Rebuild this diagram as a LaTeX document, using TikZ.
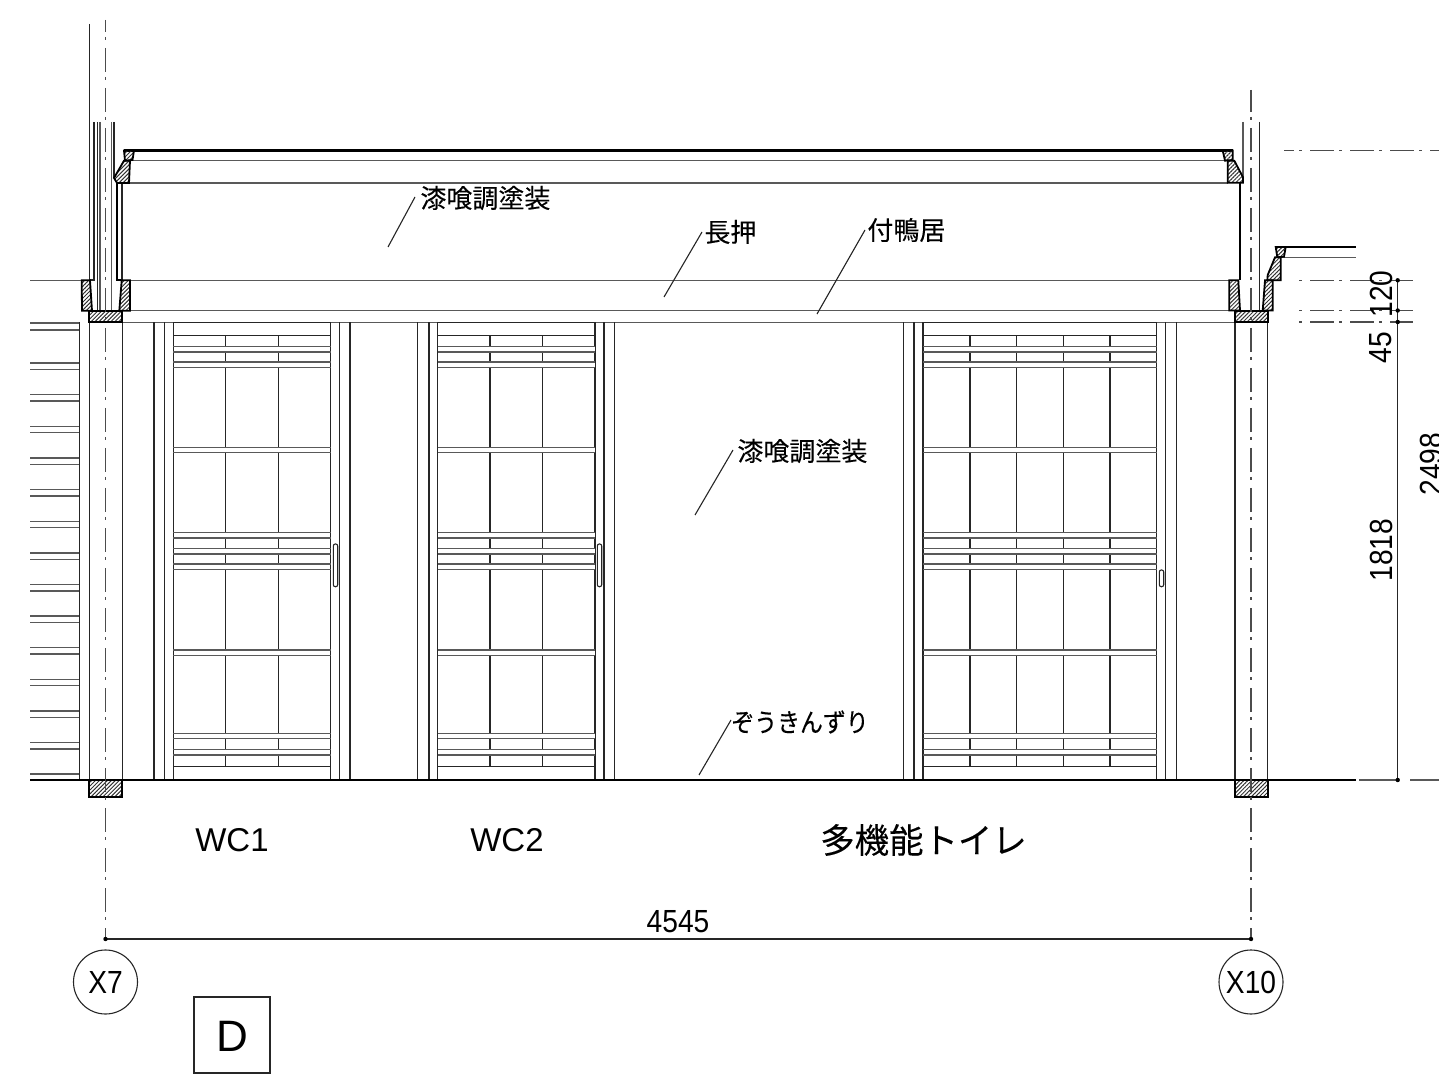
\documentclass[tikz,border=0pt]{standalone}
\usepackage{fontspec}
\usetikzlibrary{patterns.meta}
\setmainfont{Liberation Sans}
\newfontfamily\cjk[FakeBold=0.2]{Noto Sans CJK JP}
\newfontfamily\nar[FakeStretch=0.88]{Liberation Sans}
\tikzset{
  thinl/.style={line width=0.55pt,black!85},
  rail/.style={line width=0.7pt,black!65},
  heavy/.style={line width=1.05pt,black},
  cen/.style={line width=0.6pt,black!70,dash pattern=on 12pt off 2.5pt on 1.5pt off 4pt},
  hatchshape/.style={draw=black,line width=0.9pt,pattern={Lines[angle=45,distance=1.4pt,line width=0.5pt]},pattern color=black!80},
  lbl/.style={inner sep=0pt,font=\cjk\fontsize{13}{13}\selectfont},
  numl/.style={inner sep=0pt,font=\nar\fontsize{16}{16}\selectfont},
  latl/.style={inner sep=0pt,font=\fontsize{16.5}{16.5}\selectfont},
  dimdot/.style={circle,fill=black,inner sep=0pt,minimum size=2.2pt},
}
\begin{document}
\begin{tikzpicture}[x=0.5pt,y=-0.5pt]
\useasboundingbox (0,0) rectangle (1439,1074);
\fill[white] (0,0) rectangle (1439,1074);
% left wall siding
\foreach \k in {1,...,13}{
  \pgfmathsetmacro{\ya}{774-31.6*\k}
  \pgfmathsetmacro{\yb}{\ya+6.4}
  \draw[rail] (30,\ya) -- (79.3,\ya);
  \draw[rail] (30,\yb) -- (79.3,\yb);
}
\draw[rail] (30,774) -- (79.3,774);
\draw[rail,line width=1pt] (30,323) -- (79.3,323);
\draw[rail] (30,330) -- (79.3,330);
% long horizontals
\draw[rail] (130,280.3) -- (1229.3,280.3);
\draw[rail] (30,280.3) -- (81.7,280.3);
\draw[rail] (122.3,310.7) -- (1235,310.7);
\draw[rail] (122.3,322.3) -- (1235,322.3);
\draw[heavy] (124,150.5) -- (1233,150.5);
\draw[rail] (130,160.7) -- (1228,160.7);
\draw[rail] (129,183) -- (1228,183);
% columns
\foreach \x in {79.3,89.7,122.3,1235,1267.7}
  \draw[thinl] (\x,322.3) -- (\x,780);
% left wall above
\draw[thinl] (89.7,24) -- (89.7,280) -- (94,280) -- (94,122);
\draw[thinl] (97.7,122) -- (97.7,310);
\draw[rail] (100,122) -- (100,310);
\draw[rail] (111.7,122) -- (111.7,310);
\draw[thinl] (114,122) -- (114,178);
\draw[heavy] (116.7,183) -- (116.7,280) -- (122,280);
\draw[thinl] (122,183) -- (122,280);
% right wall above
\draw[rail] (1243,122) -- (1243,178);
\draw[thinl] (1259.3,122) -- (1259.3,310);
\draw[heavy] (1240.3,183) -- (1240.3,280);
% right outer roof
\draw[heavy] (1285,247) -- (1355.7,247);
\draw[rail] (1280,257.3) -- (1355.7,257.3);
% hatched parts, left
\draw[hatchshape] (124,150.5) -- (134,150.5) -- (132.5,160) -- (125,160.7) -- cycle;
\draw[hatchshape] (114,178) -- (124,160.7) -- (130,160.7) -- (129,183) -- (117,183) -- cycle;
\draw[hatchshape] (81.7,280.3) -- (90,280.3) -- (92,310.7) -- (82,310.7) -- cycle;
\draw[hatchshape] (121.7,280.3) -- (130,280.3) -- (130,310.7) -- (119.3,310.7) -- cycle;
\draw[hatchshape] (89.3,310.7) rectangle (122.3,322.3);
\draw[hatchshape] (89.3,780) rectangle (122.3,797);
% hatched parts, right
\draw[hatchshape] (1222.7,150.5) -- (1232.7,150.5) -- (1232.7,160) -- (1225,160.7) -- cycle;
\draw[hatchshape] (1227.7,160.7) -- (1234.3,160.7) -- (1243,177.3) -- (1243,182.7) -- (1227.7,182.7) -- cycle;
\draw[hatchshape] (1229.3,280.3) -- (1238.3,280.3) -- (1240,310.5) -- (1229.3,310.5) -- cycle;
\draw[hatchshape] (1265,280.3) -- (1272.7,280.3) -- (1272.7,310.5) -- (1262.7,310.5) -- cycle;
\draw[hatchshape] (1235,310.7) rectangle (1267.7,322.3);
\draw[hatchshape] (1235,780) rectangle (1267.7,797);
\draw[hatchshape] (1275.7,247) -- (1285.7,247) -- (1284,256.7) -- (1277.3,257.3) -- cycle;
\draw[hatchshape] (1267.3,280.3) -- (1267.7,275) -- (1275,257.3) -- (1280.7,257.3) -- (1280.7,280.3) -- cycle;
% doors: frame lines
\foreach \x in {154,164.3,173.3,330.7,339.5,350,417.7,429,437.7,595,604,614.3,903.3,914,923,1156.7,1165.7,1176.3}
  \draw[thinl] (\x,322.3) -- (\x,780);
% door panels
\foreach \xa/\xb/\mul in {173.3/330.7/{225.7,278.3},437.7/595/{490,542.7},923/1156.7/{970,1016.7,1063.3,1110}}{
  \foreach \m in \mul
    \draw[thinl] (\m,335.7) -- (\m,766.3);
  \draw[thinl] (\xa,322.3) -- (\xb,322.3);
  \draw[thinl] (\xa,335.7) -- (\xb,335.7);
  \draw[thinl] (\xa,766.3) -- (\xb,766.3);
  \foreach \ra in {346.7,362,447.3,532.7,548.7,564,650,733.3,749.7}{
    \fill[white] (\xa+0.5,\ra) rectangle (\xb-0.5,\ra+5.3);
    \draw[rail] (\xa,\ra) -- (\xb,\ra);
    \draw[rail] (\xa,\ra+5.3) -- (\xb,\ra+5.3);
  }
}
% handles
\draw[thinl,rounded corners=1pt,fill=white] (333.3,544) rectangle (337.7,586.7);
\draw[thinl,rounded corners=1pt,fill=white] (597.3,544) rectangle (601.7,586.7);
\draw[thinl,rounded corners=1pt,fill=white] (1159.3,570) rectangle (1163.7,586.7);
% floor
\draw[heavy] (30,780) -- (1356,780);
\draw[rail] (1359.3,780) -- (1398,780);
\draw[rail] (1410,780) -- (1439,780);
% centre lines
\draw[cen,dash phase=6pt] (105.5,20) -- (105.5,940);
\draw[cen,dash phase=1pt] (1251,90) -- (1251,940);
\draw[cen,dash phase=7pt] (1284,150.3) -- (1439,150.3);
\foreach \y in {280.3,310.5,322}
  \draw[cen,dash phase=12pt] (1294,\y) -- (1413,\y);
% dimension lines
\coordinate (d7) at (105.5,939);
\coordinate (d10) at (1251,939);
\draw[thinl] (d7) -- (d10);
\node[dimdot] at (d7) {};
\node[dimdot] at (d10) {};
\coordinate (v1) at (1397.7,280.3);
\coordinate (v2) at (1397.7,310.5);
\coordinate (v3) at (1397.7,322);
\coordinate (v4) at (1397.7,780);
\draw[thinl] (v1) -- (v4);
\foreach \c in {v1,v2,v3,v4} \node[dimdot] at (\c) {};
% leaders
\draw[thinl] (415,197) -- (388,247);
\draw[thinl] (702,232) -- (664,297);
\draw[thinl] (865,230) -- (817,314);
\draw[thinl] (733,450) -- (695,515);
\draw[thinl] (731,720) -- (699,775);
% labels
\node[lbl,anchor=west] (l1) at (420,198) {漆喰調塗装};
\node[lbl,anchor=west] (l2) at (704,232) {長押};
\node[lbl,anchor=west] (l3) at (867,230) {付鴨居};
\node[lbl,anchor=west] (l4) at (737,451) {漆喰調塗装};
\node[lbl,anchor=west] (l5) at (731,722) {\scalebox{0.88}[1]{ぞうきんずり}};
\node[inner sep=0pt,font=\cjk\fontsize{17.2}{17.2}\selectfont] (room3) at (923.5,840) {多機能トイレ};
\node[latl] (room1) at (232,840) {WC1};
\node[latl] (room2) at (507,840) {WC2};
\node[numl] (dimx) at (678,922) {4545};
\node[numl,rotate=90] (dim120) at (1381,294) {120};
\node[numl,rotate=90] (dim45) at (1381,347.5) {45};
\node[numl,rotate=90] (dim1818) at (1381,550) {1818};
\node[numl,rotate=90] (dim2498) at (1431,464) {2498};
% grid bubbles
\draw[thinl] (105.5,982) circle[radius=32];
\draw[thinl] (1251,982) circle[radius=32];
\node[numl] (x7) at (105.5,982) {X7};
\node[numl] (x10) at (1251,982) {X10};
% sheet mark
\draw[thinl] (194,997) rectangle (270,1073);
\node[inner sep=0pt,font=\fontsize{22}{22}\selectfont] (sheet) at (232,1036) {D};
\end{tikzpicture}
\end{document}
